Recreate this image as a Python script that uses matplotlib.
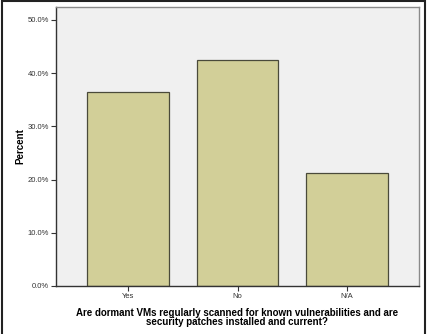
import matplotlib
matplotlib.use("Agg")
import matplotlib.pyplot as plt
from matplotlib.patches import Rectangle
from matplotlib.ticker import FuncFormatter

categorias = ["Yes", "No", "N/A"]
porcentajes = [36.4, 42.4, 21.2]
yticks = [0, 10, 20, 30, 40, 50]

plt.rcParams["font.family"] = ["Liberation Sans", "DejaVu Sans"]

fig = plt.figure(figsize=(4.32, 3.34), dpi=100)
ax = fig.add_axes([56 / 432, 1 - 286 / 334, (419 - 56) / 432, (286 - 7) / 334])
ax.set_facecolor("#f0f0f0")

x = list(range(len(categorias)))
ax.bar(x, porcentajes, width=0.75, color="#d2cf98", edgecolor="#4a4a3a", linewidth=0.9, zorder=2)

ax.set_xlim(-0.662, 2.662)
ax.set_ylim(0, 52.4)
ax.set_yticks(yticks)
ax.yaxis.set_major_formatter(FuncFormatter(lambda v, p: f"{v:.1f}%"))
ax.set_xticks(x)
ax.set_xticklabels(categorias)

ax.tick_params(axis="both", labelsize=5.5, colors="#333333", length=3.5, width=0.8, pad=1.5)
for s in ax.spines.values():
    s.set_color("#8a8a8a")
    s.set_linewidth(1.0)
ax.spines["left"].set_color("#333333")
ax.spines["bottom"].set_color("#333333")

ax.set_ylabel("Percent", fontsize=7, fontweight="bold", labelpad=1.5)
ax.set_xlabel("Are dormant VMs regularly scanned for known vulnerabilities and are\nsecurity patches installed and current?",
              fontsize=7, fontweight="bold", labelpad=5.5, linespacing=0.95)

# marco exterior
fig.patches.append(Rectangle((1.5 / 432, -0.05), 423 / 432, 1.05 - 1.5 / 334, transform=fig.transFigure,
                             fill=False, edgecolor="#222222", linewidth=1.5, clip_on=False))

fig.savefig("out.png", dpi=100)
